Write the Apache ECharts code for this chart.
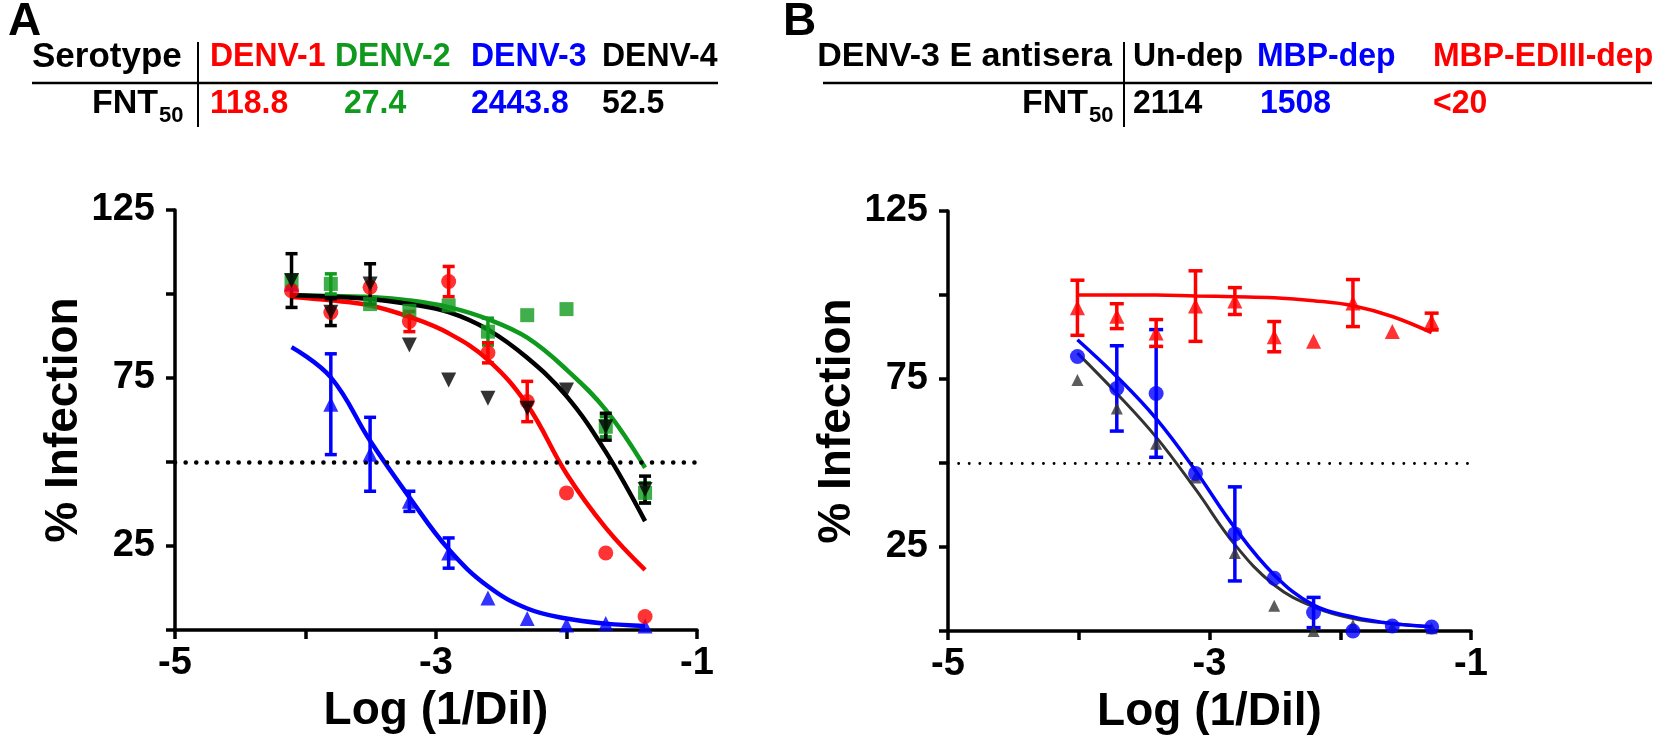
<!DOCTYPE html>
<html>
<head>
<meta charset="utf-8">
<script src="https://cdn.jsdelivr.net/npm/echarts@6/dist/echarts.min.js"></script>
<style>
html, body { margin: 0; padding: 0; background: #fff; }
#chart { width: 1667px; height: 750px; }
</style>
</head>
<body>
<div id="chart"></div>
<script>
// ---- panel A: anti DENV-3 E sera against the four serotypes ----
const logDilA = [-4.107, -3.806, -3.505, -3.204, -2.903, -2.602, -2.301, -2.000, -1.699, -1.398];

const denv1 = [101, 94.5, 102, 91.8, 103.7, 82.5, 68, 40.8, 22.9, 4];
const denv1Err = [null, null, null, 3, 4.5, 3, 6, null, null, null];
const denv1Fit = [99.1, 98.1, 96.6, 93.2, 88.3, 80.4, 67, 46.5, 30.4, 17.9];

const denv2 = [104, 103, 97, 95, 96.6, 88.8, 93.7, 95.5, 60.5, 40.8];
const denv2Err = [null, 3, null, null, null, 4, null, null, 3, 3];
const denv2Fit = [99.6, 99.4, 99.1, 98.1, 96.1, 92.5, 87, 77.5, 65.5, 48.3];

const denv3 = [103, 67.2, 52.3, 38.3, 22.9, 9.5, 3.4, 1.5, 1.9, 1.2];
const denv3Err = [null, 15, 11, 3, 4.5, null, null, null, null, null];
const denv3Fit = [84.2, 75.2, 56.3, 39.5, 24, 13, 6.4, 3.4, 1.9, 1.2];

const denv4 = [104, 94.6, 103, 84.8, 74.4, 69, 66, 71.4, 60.5, 41.8];
const denv4Err = [8, 4, 6, null, null, null, null, null, 4, 4];
const denv4Fit = [99.6, 99.2, 98.5, 97, 94.6, 89.4, 81, 69.6, 53, 32.4];

const serotypes = ['DENV-1', 'DENV-2', 'DENV-3', 'DENV-4'];
const fntA = ['118.8', '27.4', '2443.8', '52.5'];

// ---- panel B: depleted DENV-3 E antisera against DENV-3 ----
const logDilB = [-4.010, -3.709, -3.408, -3.107, -2.806, -2.505, -2.204, -1.903, -1.602, -1.301];

const unDep = [74.7, 66.2, 55.7, 45.7, 23.2, 7.5, 0, 1.7, 1.2, 0.8];
const unDepFit = [82.7, 70.7, 57.7, 42.2, 25.7, 13.7, 7.2, 3.7, 2.2, 1.2];

const mbpDep = [81.7, 72.2, 70.7, 46.9, 28.9, 15.7, 5.5, 0, 1.5, 1.2];
const mbpDepErr = [null, 12.7, 19, null, 14, null, 4.5, null, null, null];
const mbpDepFit = [86.7, 75.7, 63.2, 47.7, 30.7, 16.7, 7.7, 4.2, 2.2, 1.3];

const edDep = [96.2, 93.7, 88.7, 96.7, 98.2, 87.6, 86.2, 97.6, 89.1, 92.1];
const edDepErr = [8.2, 3.7, 4, 10.5, 4, 4.5, null, 7, null, 2.5];
const edDepFit = [100, 100, 100, 99.7, 99.5, 99.2, 98.3, 96.8, 93.6, 88.8];

const antisera = ['Un-dep', 'MBP-dep', 'MBP-EDIII-dep'];
const fntB = ['2114', '1508', '<20'];

const yTickLabels = [25, 75, 125];
const xTickLabels = [-5, -3, -1];
const halfLine = 50;

const RED = '#ff0000', GREEN = '#0f9a1e', BLUE = '#0000ff', BLACK = '#000000', GREY = '#333333';
const FONT = '"Liberation Sans", Arial, sans-serif';

const pairs = (xs, ys) => xs.map((x, i) => [x, ys[i]]);

const errBars = (xs, ys, errs, color, idx, cap, w) => ({
    type: 'custom',
    xAxisIndex: idx,
    yAxisIndex: idx,
    z: 4,
    silent: true,
    encode: { x: 0, y: [1, 2] },
    data: xs.map((x, i) => errs[i] == null ? null : [x, ys[i] - errs[i], ys[i] + errs[i]]).filter(d => d),
    renderItem: (params, api) => {
        const lo = api.coord([api.value(0), api.value(1)]);
        const hi = api.coord([api.value(0), api.value(2)]);
        const style = { stroke: color, lineWidth: w };
        return {
            type: 'group',
            children: [
                { type: 'line', shape: { x1: lo[0], y1: lo[1], x2: hi[0], y2: hi[1] }, style },
                { type: 'line', shape: { x1: lo[0] - cap, y1: lo[1], x2: lo[0] + cap, y2: lo[1] }, style },
                { type: 'line', shape: { x1: hi[0] - cap, y1: hi[1], x2: hi[0] + cap, y2: hi[1] }, style }
            ]
        };
    }
});

const dots = (xs, ys, color, idx, symbol, size, rotate) => ({
    type: 'scatter',
    xAxisIndex: idx,
    yAxisIndex: idx,
    z: 5,
    symbol,
    symbolSize: size,
    symbolRotate: rotate || 0,
    itemStyle: { color },
    data: pairs(xs, ys)
});

const fit = (xs, ys, color, idx, width) => ({
    type: 'line',
    xAxisIndex: idx,
    yAxisIndex: idx,
    z: 3,
    smooth: 0.4,
    showSymbol: false,
    silent: true,
    lineStyle: { color, width },
    data: pairs(xs, ys)
});

const dotted = (idx, width) => ({
    type: 'line',
    xAxisIndex: idx,
    yAxisIndex: idx,
    data: [],
    markLine: {
        silent: true,
        symbol: 'none',
        label: { show: false },
        lineStyle: { color: BLACK, width, type: [0.1, 10.5], cap: 'round' },
        data: [{ yAxis: halfLine }]
    }
});

const xAxisOf = (idx) => ({
    gridIndex: idx,
    type: 'value',
    min: -5,
    max: -1,
    interval: 1,
    name: 'Log (1/Dil)',
    nameLocation: 'middle',
    nameGap: 52,
    nameTextStyle: { fontSize: 46, fontWeight: 'bold', color: BLACK, fontFamily: FONT },
    axisLine: { lineStyle: { color: BLACK, width: 3.5 } },
    axisTick: { length: 9, lineStyle: { color: BLACK, width: 3.5 } },
    axisLabel: {
        margin: 15,
        fontSize: 38,
        fontWeight: 'bold',
        color: BLACK,
        fontFamily: FONT,
        formatter: v => (xTickLabels.includes(v) ? String(v) : '')
    },
    splitLine: { show: false }
});

const yAxisOf = (idx) => ({
    gridIndex: idx,
    type: 'value',
    min: 0,
    max: 125,
    interval: 25,
    name: '% Infection',
    nameLocation: 'middle',
    nameGap: 88,
    nameTextStyle: { fontSize: 46, fontWeight: 'bold', color: BLACK, fontFamily: FONT },
    axisLine: { show: true, lineStyle: { color: BLACK, width: 3.5 } },
    axisTick: { show: true, length: 9, lineStyle: { color: BLACK, width: 3.5 } },
    axisLabel: {
        margin: 20,
        fontSize: 38,
        fontWeight: 'bold',
        color: BLACK,
        fontFamily: FONT,
        formatter: v => (yTickLabels.includes(v) ? String(v) : '')
    },
    splitLine: { show: false }
});

const txt = (text, x, y, size, color, align, sx) => ({
    type: 'text',
    x, y,
    scaleX: sx || 1,
    style: {
        text,
        fill: color,
        font: 'bold ' + size + 'px ' + FONT,
        textAlign: align || 'left',
        textVerticalAlign: 'middle'
    }
});

const rule = (x1, y1, x2, y2, w) => ({
    type: 'line',
    shape: { x1, y1, x2, y2 },
    style: { stroke: BLACK, lineWidth: w }
});

const fntLabel = (xEnd, y) => [
    txt('FNT', xEnd - 26, y, 34, BLACK, 'right'),
    txt('50', xEnd - 25, y + 12, 22, BLACK, 'left')
];

const colorsA = [RED, GREEN, BLUE, BLACK];
const colsA = [210, 335, 471, 602];
const fntColsA = [210, 344, 471, 602];
const colorsB = [BLACK, BLUE, RED];
const colsB = [1133, 1257, 1433];
const fntColsB = [1133, 1260, 1433];

const row1 = 57, row2 = 104;
const squeeze = 0.94;

const graphics = [
    txt('A', 8, 22, 46, BLACK),
    txt('B', 783, 22, 46, BLACK),
    // table A
    txt('Serotype', 32, row1, 35, BLACK),
    rule(198, 42, 198, 127, 2),
    rule(32, 83, 718, 83, 2.5),
    ...fntLabel(184, row2),
    ...serotypes.map((s, i) => txt(s, colsA[i], row1, 34, colorsA[i], 'left', squeeze)),
    ...fntA.map((s, i) => txt(s, fntColsA[i], row2, 34, colorsA[i], 'left', squeeze)),
    // table B
    txt('DENV-3 E antisera', 1112, row1, 34, BLACK, 'right'),
    rule(1124, 42, 1124, 127, 2),
    rule(823, 83, 1652, 83, 2.5),
    ...fntLabel(1114, row2),
    ...antisera.map((s, i) => txt(s, colsB[i], row1, 34, colorsB[i], 'left', squeeze)),
    ...fntB.map((s, i) => txt(s, fntColsB[i], row2, 34, colorsB[i], 'left', squeeze))
];

const chart = echarts.init(document.getElementById('chart'));
chart.setOption({
    backgroundColor: '#fff',
    animation: false,
    grid: [
        { left: 175, top: 210, width: 522, height: 420 },
        { left: 948, top: 211, width: 523, height: 420 }
    ],
    xAxis: [xAxisOf(0), xAxisOf(1)],
    yAxis: [yAxisOf(0), yAxisOf(1)],
    graphic: graphics,
    series: [
        dotted(0, 4.5),
        fit(logDilA, denv3Fit, BLUE, 0, 4.5),
        fit(logDilA, denv1Fit, RED, 0, 4.5),
        fit(logDilA, denv2Fit, GREEN, 0, 4.5),
        fit(logDilA, denv4Fit, BLACK, 0, 4.5),
        errBars(logDilA, denv3, denv3Err, BLUE, 0, 6, 3.5),
        errBars(logDilA, denv2, denv2Err, GREEN, 0, 6, 3.5),
        errBars(logDilA, denv1, denv1Err, RED, 0, 6, 3.5),
        errBars(logDilA, denv4, denv4Err, BLACK, 0, 6, 3.5),
        dots(logDilA, denv3, BLUE, 0, 'triangle', 15),
        dots(logDilA, denv2, GREEN, 0, 'rect', 14),
        dots(logDilA, denv1, RED, 0, 'circle', 15),
        dots(logDilA, denv4, BLACK, 0, 'triangle', 15, 180),

        dotted(1, 2.8),
        fit(logDilB, unDepFit, GREY, 1, 3),
        fit(logDilB, mbpDepFit, BLUE, 1, 3.5),
        fit(logDilB, edDepFit, RED, 1, 3.5),
        errBars(logDilB, mbpDep, mbpDepErr, BLUE, 1, 7, 3.5),
        errBars(logDilB, edDep, edDepErr, RED, 1, 7, 3.5),
        dots(logDilB, unDep, GREY, 1, 'triangle', 12),
        dots(logDilB, mbpDep, BLUE, 1, 'circle', 15),
        dots(logDilB, edDep, RED, 1, 'triangle', 15)
    ]
});
</script>
</body>
</html>
